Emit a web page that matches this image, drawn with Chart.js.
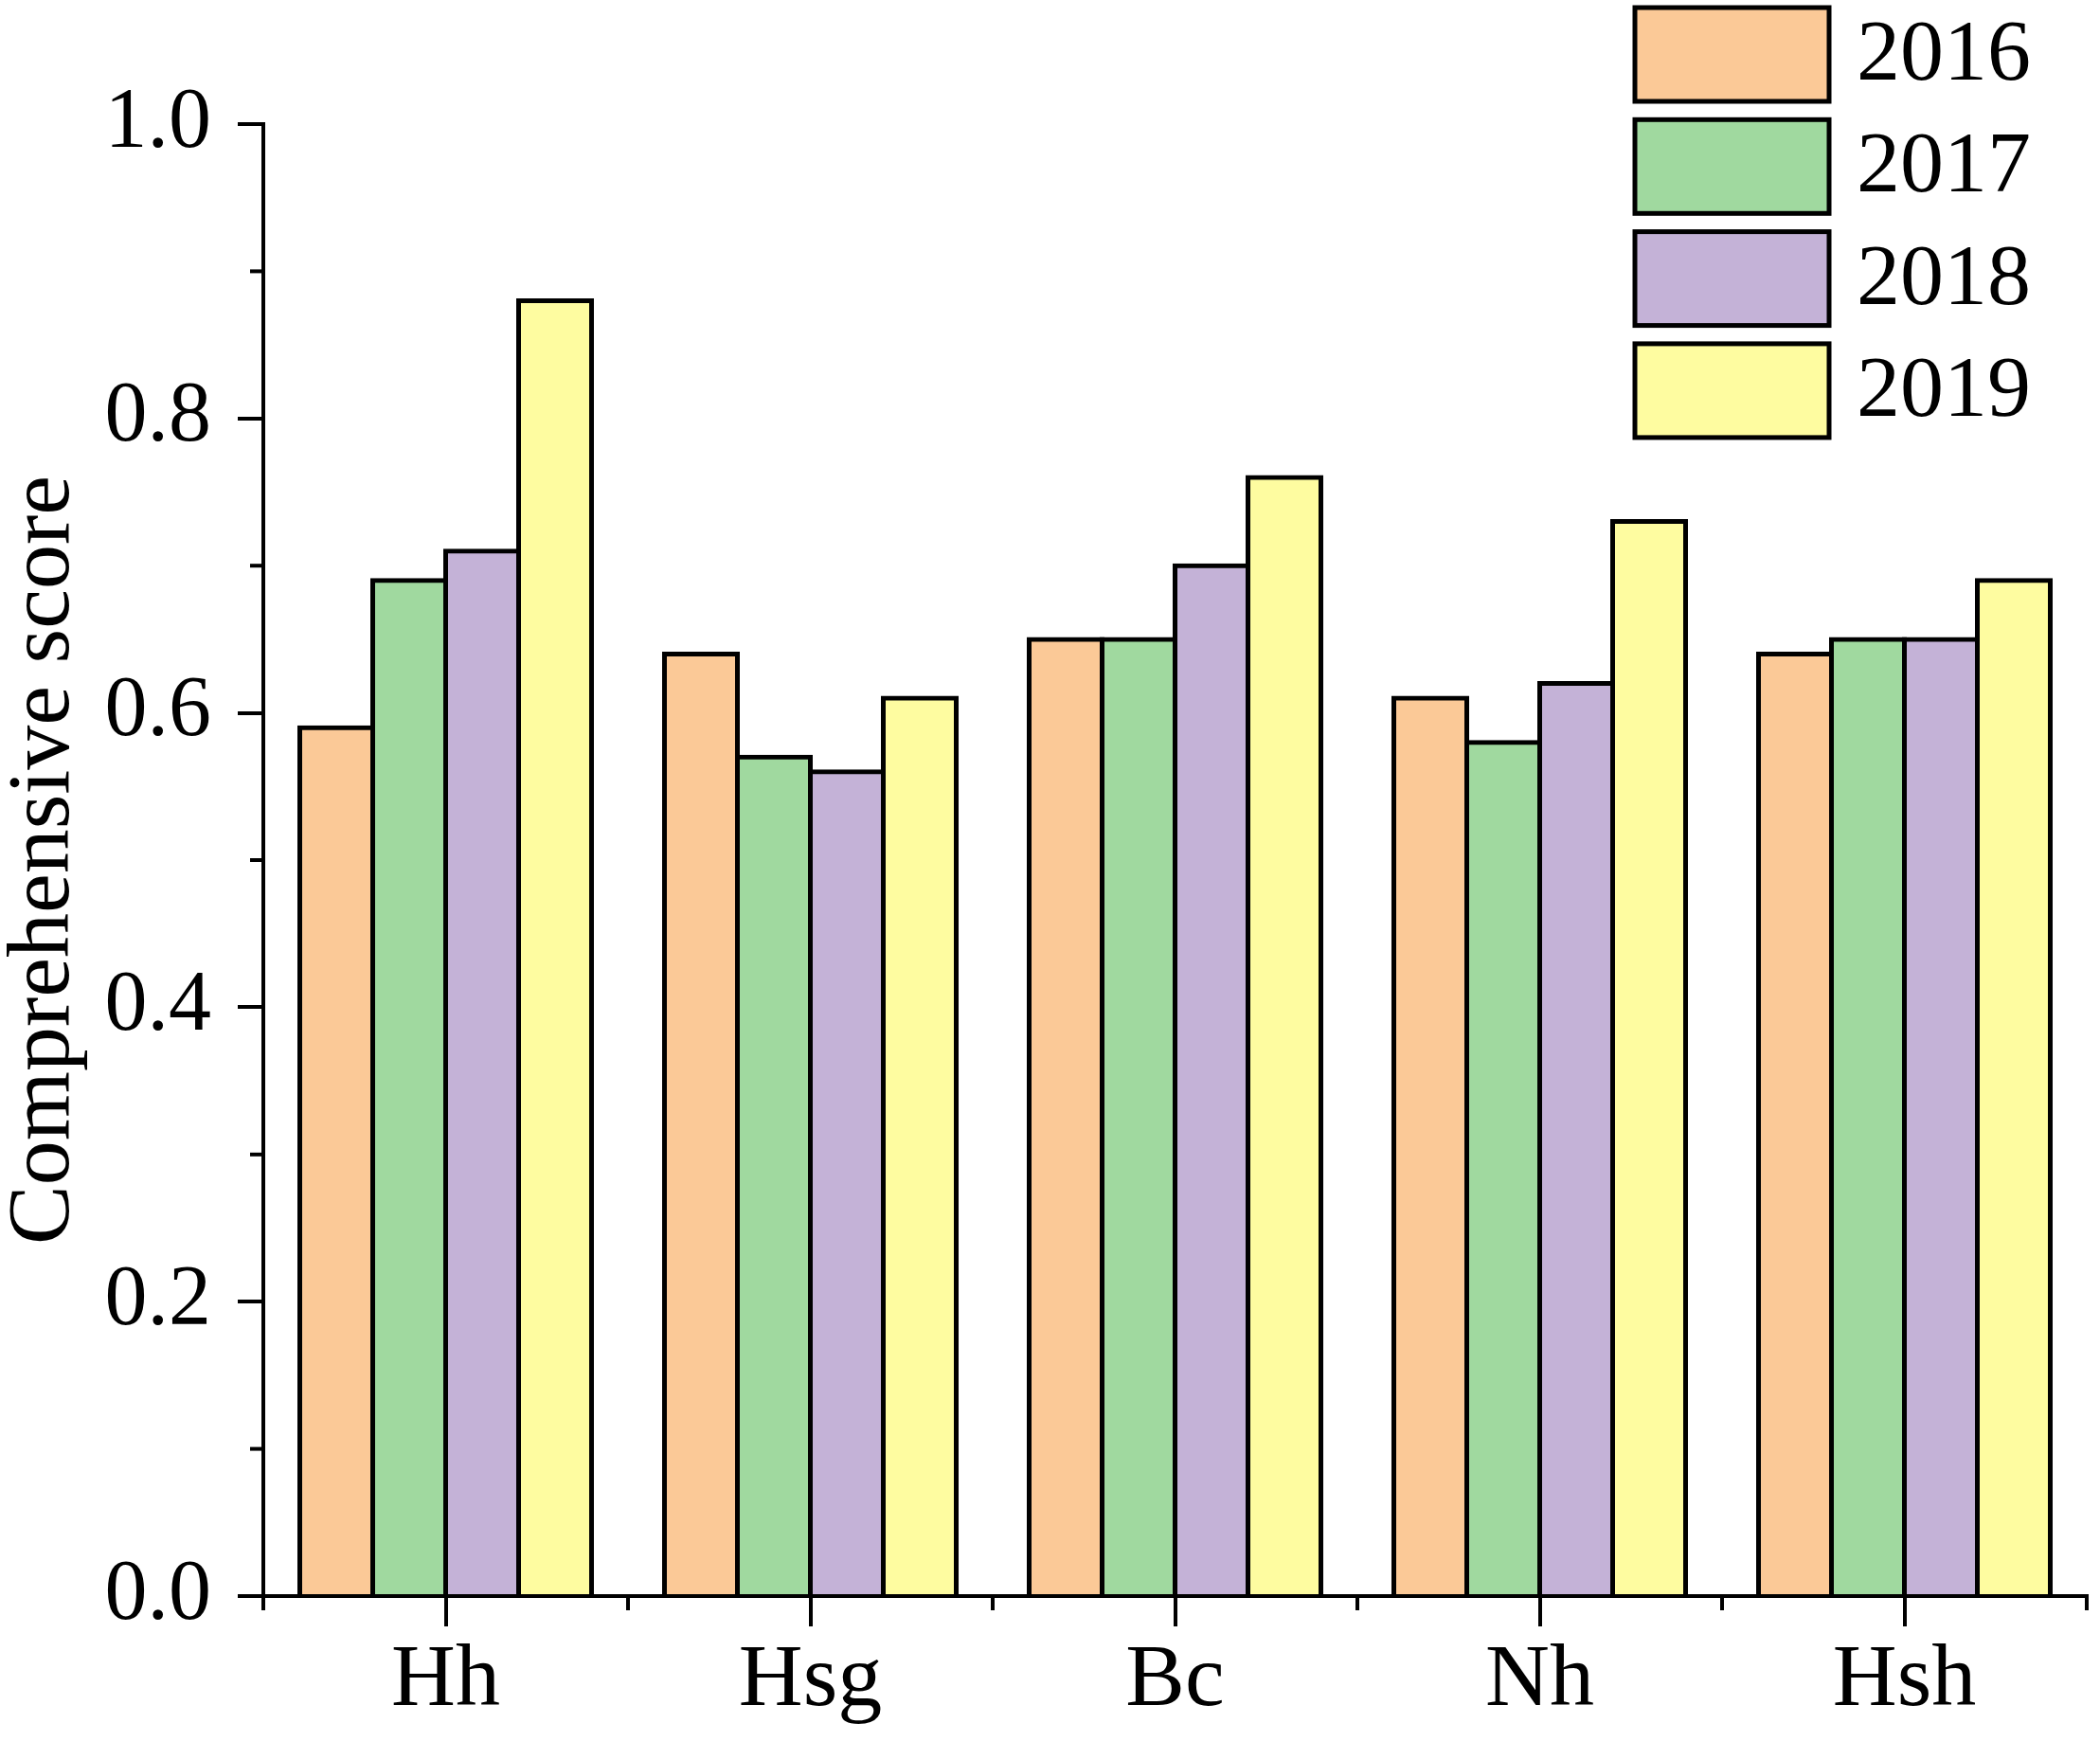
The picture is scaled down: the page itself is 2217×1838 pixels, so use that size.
<!DOCTYPE html>
<html>
<head>
<meta charset="utf-8">
<script src="https://cdn.jsdelivr.net/npm/chart.js@4.4.1/dist/chart.umd.min.js"></script>
<style>
  html, body { margin: 0; padding: 0; background: #fff; }
  canvas { display: block; }
</style>
</head>
<body>
<canvas id="chart" width="2217" height="1838"></canvas>
<script>
// data
const categories = ['Hh', 'Hsg', 'Bc', 'Nh', 'Hsh'];
const years = ['2016', '2017', '2018', '2019'];
const score2016 = [0.59, 0.64, 0.65, 0.61, 0.64];
const score2017 = [0.69, 0.57, 0.65, 0.58, 0.65];
const score2018 = [0.71, 0.56, 0.70, 0.62, 0.65];
const score2019 = [0.88, 0.61, 0.76, 0.73, 0.69];
const yTicks = [0, 0.2, 0.4, 0.6, 0.8, 1.0];
const yMinorTicks = [0.1, 0.3, 0.5, 0.7, 0.9];

const colors = ['#FBC997', '#A0D99F', '#C4B2D7', '#FEFCA0'];
const serif = '"Liberation Serif", "Times New Roman", serif';

// small ticks between the labelled ones
const minorTicks = {
    id: 'minorTicks',
    afterDraw(chart) {
        const ctx = chart.ctx;
        const y = chart.scales.y;
        const x = chart.scales.x;
        ctx.save();
        ctx.strokeStyle = '#000';
        ctx.lineWidth = 4;
        yMinorTicks.forEach(v => {
            const py = y.getPixelForValue(v);
            ctx.beginPath();
            ctx.moveTo(chart.chartArea.left - 14, py);
            ctx.lineTo(chart.chartArea.left, py);
            ctx.stroke();
        });
        for (let i = 0; i <= categories.length; i++) {
            const px = x.getPixelForValue(i - 0.5);
            ctx.beginPath();
            ctx.moveTo(px, chart.chartArea.bottom);
            ctx.lineTo(px, chart.chartArea.bottom + 15);
            ctx.stroke();
        }
        ctx.restore();
    }
};

// legend stacked in the top right corner
const boxLegend = {
    id: 'boxLegend',
    afterDraw(chart) {
        const ctx = chart.ctx;
        ctx.save();
        chart.data.datasets.forEach((ds, i) => {
            const top = 8 + i * 118.3;
            ctx.fillStyle = ds.backgroundColor;
            ctx.fillRect(1726, top, 205, 99);
            ctx.strokeStyle = '#000';
            ctx.lineWidth = 5;
            ctx.strokeRect(1726, top, 205, 99);
            ctx.fillStyle = '#000';
            ctx.font = '92px ' + serif;
            ctx.textBaseline = 'middle';
            ctx.textAlign = 'left';
            ctx.fillText(ds.label, 1960, top + 52);
        });
        ctx.restore();
    }
};

function makeDataset(i, values) {
    return {
        label: years[i],
        data: values,
        backgroundColor: colors[i],
        borderColor: '#000',
        borderWidth: 5,
        inflateAmount: 2.5,
        categoryPercentage: 0.8,
        barPercentage: 1.0
    };
}

const ctx = document.getElementById('chart').getContext('2d');
new Chart(ctx, {
    type: 'bar',
    data: {
        labels: categories,
        datasets: [
            makeDataset(0, score2016),
            makeDataset(1, score2017),
            makeDataset(2, score2018),
            makeDataset(3, score2019)
        ]
    },
    options: {
        responsive: false,
        animation: false,
        devicePixelRatio: 1,
        layout: { padding: { top: 131, right: 14, left: 0, bottom: 0 } },
        plugins: {
            legend: { display: false },
            tooltip: { enabled: false }
        },
        scales: {
            x: {
                grid: {
                    offset: false,
                    drawOnChartArea: false,
                    color: '#000',
                    tickLength: 32,
                    lineWidth: 4
                },
                border: { display: true, color: '#000', width: 4 },
                ticks: {
                    color: '#000',
                    padding: 2,
                    font: { family: serif, size: 94 }
                },
                afterFit(scale) { scale.height = 153; }
            },
            y: {
                min: 0,
                max: 1,
                afterBuildTicks(scale) {
                    scale.ticks = yTicks.map(v => ({ value: v }));
                },
                grid: {
                    drawOnChartArea: false,
                    color: '#000',
                    tickLength: 27,
                    lineWidth: 4
                },
                border: { display: true, color: '#000', width: 4 },
                ticks: {
                    color: '#000',
                    padding: 28,
                    font: { family: serif, size: 90 },
                    callback: v => Number(v).toFixed(1)
                },
                title: {
                    display: true,
                    text: 'Comprehensive score',
                    color: '#000',
                    padding: 0,
                    font: { family: serif, size: 94, lineHeight: 1 }
                },
                afterFit(scale) { scale.width = 278; }
            }
        }
    },
    plugins: [minorTicks, boxLegend]
});
</script>
</body>
</html>
